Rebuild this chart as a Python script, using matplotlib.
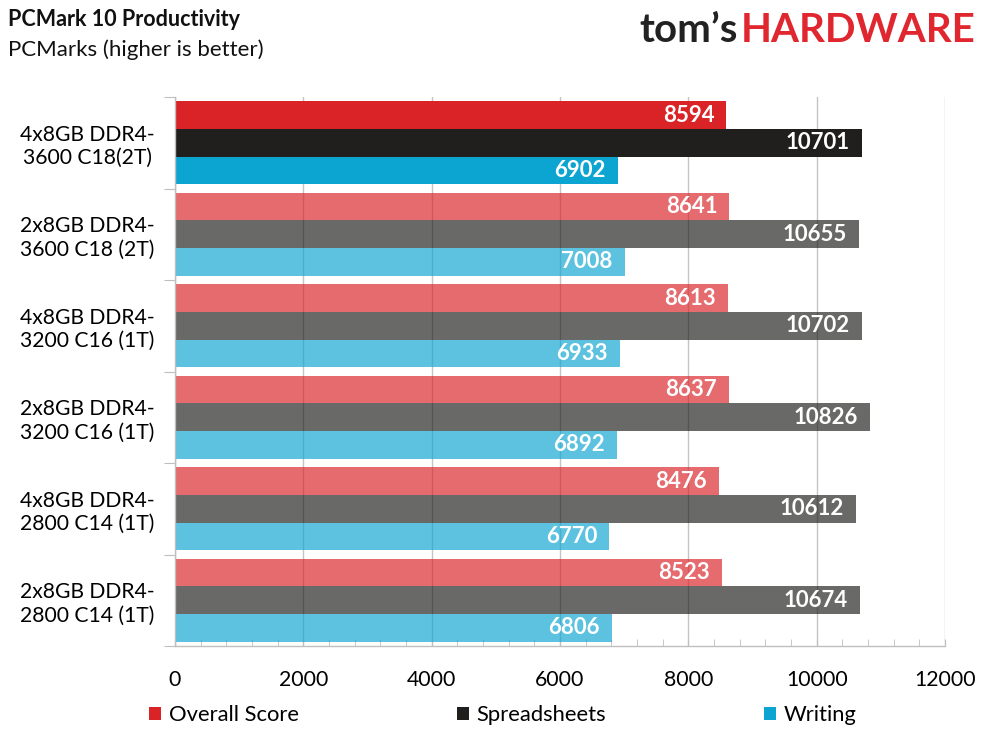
import matplotlib
matplotlib.use("Agg")
import matplotlib.pyplot as plt
from matplotlib.patches import Patch
from matplotlib.ticker import MultipleLocator, FixedLocator
import numpy as np

plt.rcParams['font.family'] = ['Lato', 'DejaVu Sans']

configs = ["4x8GB DDR4-\n3600 C18(2T)", "2x8GB DDR4-\n3600 C18 (2T)",
           "4x8GB DDR4-\n3200 C16 (1T)", "2x8GB DDR4-\n3200 C16 (1T)",
           "4x8GB DDR4-\n2800 C14 (1T)", "2x8GB DDR4-\n2800 C14 (1T)"]
overall = [8594, 8641, 8613, 8637, 8476, 8523]
spreadsheets = [10701, 10655, 10702, 10826, 10612, 10674]
writing = [6902, 7008, 6933, 6892, 6770, 6806]
series_names = ["Overall Score", "Spreadsheets", "Writing"]
colors = ["#d92327", "#201f1e", "#0ca5d2"]
xticks = [0, 2000, 4000, 6000, 8000, 10000, 12000]

W, H = 989, 741
fig = plt.figure(figsize=(W / 100, H / 100), dpi=100)
ax = fig.add_axes([175 / W, 1 - 646 / H, (945 - 175) / W, (646 - 97) / H])

n = len(configs)
bh = 0.302
series = [overall, spreadsheets, writing]
for k, (vals, c) in enumerate(zip(series, colors)):
    for i, v in enumerate(vals):
        y = i + 0.5 + (k - 1) * bh
        a = 1.0 if i == 0 else 0.67
        ax.barh(y, v, height=bh, color=c, alpha=a, linewidth=0, zorder=2)
        ax.text(v - 190, y, f"{v}", ha='right', va='center', color='white',
                fontsize=16, fontweight='bold', zorder=3)

ax.set_xlim(0, 12000)
ax.set_ylim(n, 0)
ax.xaxis.set_major_locator(FixedLocator(xticks))
ax.xaxis.set_minor_locator(MultipleLocator(400))
ax.set_xticklabels([str(t) for t in xticks], fontsize=15.3)
ax.tick_params(axis='x', which='both', direction='in', length=5, color='#bfbfbf', pad=17)
ax.grid(axis='x', color='#c4c4c4', linewidth=1, zorder=0)
ax.set_axisbelow(True)

ax.yaxis.set_major_locator(FixedLocator(np.arange(n + 1)))
ax.yaxis.set_minor_locator(FixedLocator(np.arange(n) + 0.5))
ax.set_yticklabels([], minor=False)
ax.set_yticklabels(configs, minor=True, fontsize=15.2, ha='center', multialignment='center')
ax.tick_params(axis='y', which='major', direction='out', length=8, color='#bfbfbf')
ax.tick_params(axis='y', which='minor', length=0, pad=63)

for s in ['top', 'right']:
    ax.spines[s].set_visible(False)
for s in ['left', 'bottom']:
    ax.spines[s].set_color('#bfbfbf')
    ax.spines[s].set_linewidth(1)

handles = [Patch(facecolor=c, edgecolor='none') for c in colors]
fig.legend(handles, series_names, loc='center left', bbox_to_anchor=(149 / W, 1 - 715 / H),
           ncol=3, frameon=False, fontsize=15.8, handlelength=0.55, handleheight=0.55,
           handletextpad=0.35, columnspacing=7.2, borderaxespad=0, borderpad=0)

fig.text(8 / W, 1 - 20 / H, "PCMark 10 Productivity", fontsize=15.5, fontweight='bold',
         ha='left', va='center', color='#111111')
fig.text(8 / W, 1 - 50 / H, "PCMarks (higher is better)", fontsize=16,
         ha='left', va='center', color='#111111')

hw = fig.text(975 / W, 1 - 31 / H, "HARDWARE", fontsize=29, fontweight='bold',
              ha='right', va='center', color='#e0262f')
r = fig.canvas.get_renderer()
bb = hw.get_window_extent(renderer=r)
fig.text((bb.x0 - 3) / W, 1 - 31 / H, "tom\u2019s", fontsize=29, fontweight='bold',
         ha='right', va='center', color='#222222')

fig.savefig("out.png", dpi=100)
